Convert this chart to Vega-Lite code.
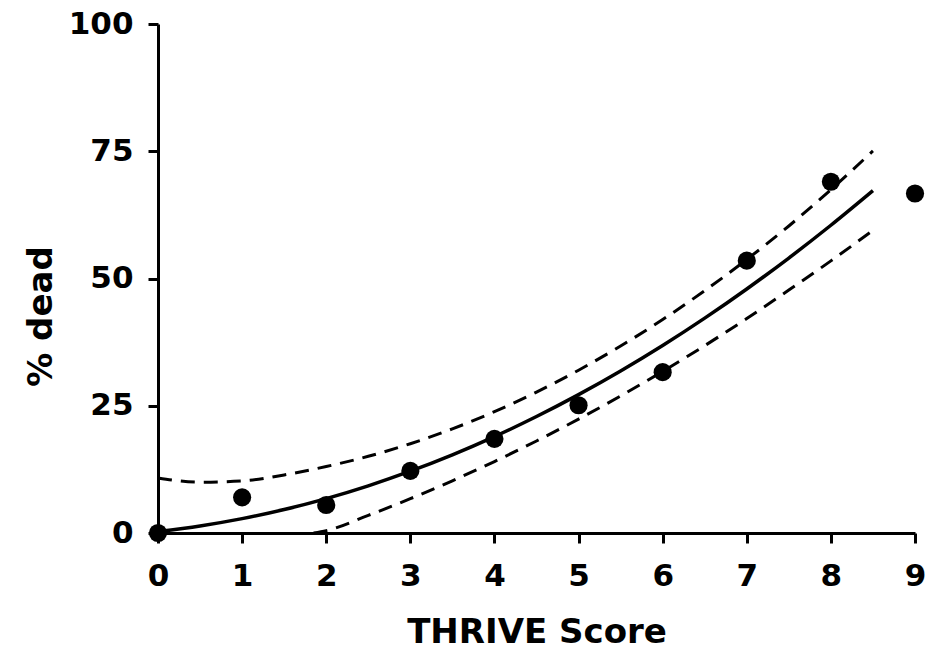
{
  "$schema": "https://vega.github.io/schema/vega-lite/v6.json",
  "width": 757,
  "height": 509,
  "autosize": "none",
  "padding": {"left": 158, "top": 24, "right": 30, "bottom": 130},
  "background": "white",
  "config": {
    "view": {"stroke": null},
    "font": "DejaVu Sans",
    "axis": {
      "grid": false,
      "ticks": true,
      "domainColor": "black",
      "domainWidth": 3,
      "tickColor": "black",
      "tickWidth": 3,
      "tickSize": 10,
      "labelColor": "black",
      "labelFont": "DejaVu Sans",
      "labelFontWeight": "bold",
      "labelFontSize": 31,
      "labelFlush": false,
      "labelOverlap": false,
      "titleColor": "black",
      "titleFont": "DejaVu Sans",
      "titleFontWeight": "bold",
      "titleFontSize": 34
    }
  },
  "datasets": {
    "curves": [
      {"x": 0, "y": 0.3, "s": "fit"},
      {"x": 0.5, "y": 1.38, "s": "fit"},
      {"x": 1, "y": 2.82, "s": "fit"},
      {"x": 1.5, "y": 4.61, "s": "fit"},
      {"x": 2, "y": 6.76, "s": "fit"},
      {"x": 2.5, "y": 9.27, "s": "fit"},
      {"x": 3, "y": 12.14, "s": "fit"},
      {"x": 3.5, "y": 15.36, "s": "fit"},
      {"x": 4, "y": 18.94, "s": "fit"},
      {"x": 4.5, "y": 22.88, "s": "fit"},
      {"x": 5, "y": 27.18, "s": "fit"},
      {"x": 5.5, "y": 31.83, "s": "fit"},
      {"x": 6, "y": 36.84, "s": "fit"},
      {"x": 6.5, "y": 42.21, "s": "fit"},
      {"x": 7, "y": 47.94, "s": "fit"},
      {"x": 7.5, "y": 54.02, "s": "fit"},
      {"x": 8, "y": 60.46, "s": "fit"},
      {"x": 8.5, "y": 67.26, "s": "fit"},
      {"x": 0, "y": 10.8, "s": "upper"},
      {"x": 0.5, "y": 9.98, "s": "upper"},
      {"x": 1, "y": 10.22, "s": "upper"},
      {"x": 1.5, "y": 11.41, "s": "upper"},
      {"x": 2, "y": 13.06, "s": "upper"},
      {"x": 2.5, "y": 15.07, "s": "upper"},
      {"x": 3, "y": 17.54, "s": "upper"},
      {"x": 3.5, "y": 20.46, "s": "upper"},
      {"x": 4, "y": 23.84, "s": "upper"},
      {"x": 4.5, "y": 27.68, "s": "upper"},
      {"x": 5, "y": 31.98, "s": "upper"},
      {"x": 5.5, "y": 36.73, "s": "upper"},
      {"x": 6, "y": 41.94, "s": "upper"},
      {"x": 6.5, "y": 47.61, "s": "upper"},
      {"x": 7, "y": 53.74, "s": "upper"},
      {"x": 7.5, "y": 60.32, "s": "upper"},
      {"x": 8, "y": 67.46, "s": "upper"},
      {"x": 8.5, "y": 75.06, "s": "upper"},
      {"x": 1.85, "y": 0, "s": "lower"},
      {"x": 2, "y": 0.46, "s": "lower"},
      {"x": 2.5, "y": 3.47, "s": "lower"},
      {"x": 3, "y": 6.74, "s": "lower"},
      {"x": 3.5, "y": 10.26, "s": "lower"},
      {"x": 4, "y": 14.04, "s": "lower"},
      {"x": 4.5, "y": 18.08, "s": "lower"},
      {"x": 5, "y": 22.38, "s": "lower"},
      {"x": 5.5, "y": 26.93, "s": "lower"},
      {"x": 6, "y": 31.74, "s": "lower"},
      {"x": 6.5, "y": 36.81, "s": "lower"},
      {"x": 7, "y": 42.14, "s": "lower"},
      {"x": 7.5, "y": 47.72, "s": "lower"},
      {"x": 8, "y": 53.46, "s": "lower"},
      {"x": 8.5, "y": 59.46, "s": "lower"}
    ],
    "points": [
      {"score": 0, "dead": 0},
      {"score": 1, "dead": 7},
      {"score": 2, "dead": 5.5},
      {"score": 3, "dead": 12.2},
      {"score": 4, "dead": 18.5},
      {"score": 5, "dead": 25.1},
      {"score": 6, "dead": 31.6},
      {"score": 7, "dead": 53.5},
      {"score": 8, "dead": 69},
      {"score": 9, "dead": 66.7}
    ]
  },
  "layer": [
    {
      "data": {"name": "curves"},
      "transform": [{"filter": "datum.s === 'fit'"}],
      "mark": {"type": "line", "color": "black", "strokeWidth": 3.5, "interpolate": "monotone"},
      "encoding": {
        "x": {"field": "x", "type": "quantitative", "scale": {"domain": [0, 9], "nice": false},
          "axis": {"values": [0,1,2,3,4,5,6,7,8,9], "format": "d", "title": "THRIVE Score", "labelPadding": 18, "titlePadding": 24}},
        "y": {"field": "y", "type": "quantitative", "scale": {"domain": [0, 100], "nice": false},
          "axis": {"values": [0,25,50,75,100], "format": "d", "title": "% dead", "labelPadding": 15, "titleX": -100, "titleY": 292}}
      }
    },
    {
      "data": {"name": "curves"},
      "transform": [{"filter": "datum.s !== 'fit'"}],
      "mark": {"type": "line", "color": "black", "strokeWidth": 3, "strokeDash": [14, 9], "interpolate": "monotone"},
      "encoding": {
        "x": {"field": "x", "type": "quantitative"},
        "y": {"field": "y", "type": "quantitative"},
        "detail": {"field": "s"}
      }
    },
    {
      "data": {"name": "points"},
      "mark": {"type": "point", "filled": true, "color": "black", "opacity": 1, "size": 330, "shape": "circle"},
      "encoding": {
        "x": {"field": "score", "type": "quantitative"},
        "y": {"field": "dead", "type": "quantitative"}
      }
    }
  ]
}
